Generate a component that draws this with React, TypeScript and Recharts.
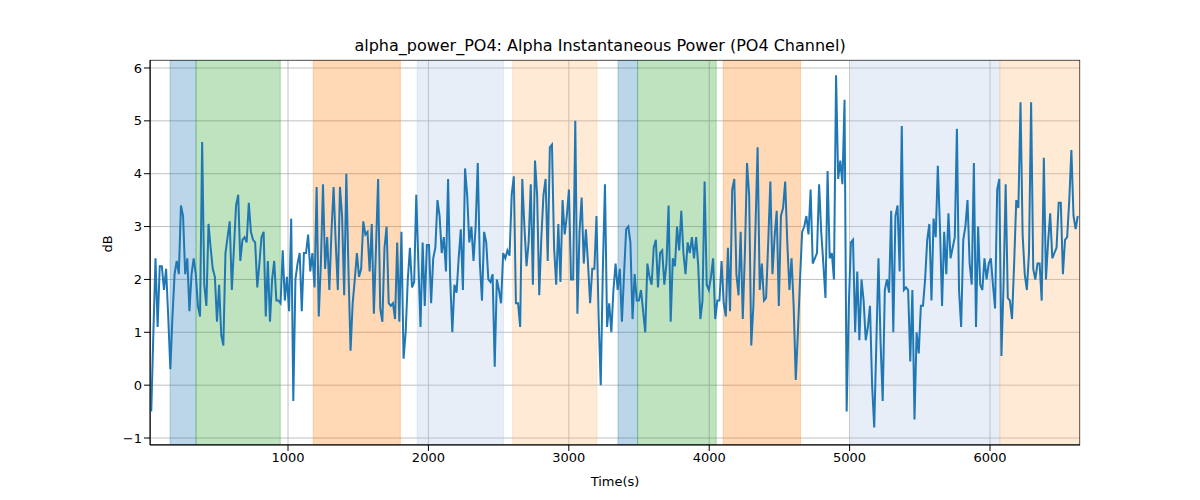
import { LineChart, Line, XAxis, YAxis, CartesianGrid, ReferenceArea } from 'recharts'

// alpha power readings (dB) left to right
const powerA = [
  -0.5, 1.0, 2.4, 1.1, 2.25, 2.25, 1.8, 2.2, 1.3, 0.3, 1.3, 2.1, 2.35, 2.1, 3.4, 3.2, 2.1, 2.4, 1.4, 2.1,
  2.4, 2.1, 1.5, 1.3, 4.6, 1.9, 1.5, 3.05, 2.6, 2.2, 2.05, 1.2, 1.9, 0.95, 0.75, 2.5, 2.8, 3.1, 1.8, 2.6,
  3.4, 3.6, 2.35, 2.75, 2.8, 2.7, 3.45, 2.9, 2.75, 2.7, 1.85, 2.3, 2.8, 2.9, 1.3, 2.35, 1.2, 2.0, 2.35, 1.6,
  1.6, 1.55, 2.55, 1.6, 2.05, 1.4, 3.15, -0.3, 2.0, 2.3,
]
const powerB = [
  2.5, 1.4, 2.5, 2.5, 2.85, 2.15, 2.5, 1.85, 3.75, 1.3, 2.3, 3.8, 2.2, 2.8, 1.8, 2.9, 3.75, 2.7, 1.8, 3.75,
  3.2, 1.7, 4.0, 2.2, 0.65, 1.55, 2.0, 2.5, 2.05, 2.2, 3.1, 2.85, 2.9, 2.15, 3.05, 1.35, 2.6, 3.9, 1.45, 1.2,
  2.6, 3.0, 1.55, 1.5, 1.55, 1.25, 2.7, 1.2, 2.9, 0.5, 1.0, 2.0, 2.6, 1.85, 1.95, 3.6, 2.3, 1.1, 2.7, 1.5,
  2.65, 2.65, 1.55, 2.4, 2.6, 3.5, 3.2, 2.5, 2.8, 2.15, 3.9, 2.0,
]
const powerC = [
  1.0, 1.9, 1.75, 2.4, 2.95, 1.8, 4.1, 3.6, 2.7, 3.0, 2.35, 3.0, 4.2, 2.3, 1.6, 2.9, 2.7, 2.0, 1.95, 2.1,
  0.35, 2.0, 1.8, 1.55, 2.5, 2.4, 2.55, 2.45, 3.6, 3.95, 1.55, 1.55, 1.1, 3.9, 3.0, 2.25, 2.7, 3.8, 1.9, 4.25,
  3.6, 1.7, 2.8, 3.6, 3.9, 2.35, 4.5, 4.55, 2.6, 1.9, 3.05, 1.95, 3.5, 2.85, 3.2, 3.7, 2.0, 2.0, 5.0, 1.35,
  2.9, 3.55, 2.3, 2.95, 2.3, 1.55, 2.2, 2.2, 3.2, 1.3, 0.0, 2.2, 3.8,
]
const powerD = [
  1.1, 1.55, 1.0, 1.8, 2.3, 1.8, 2.2, 1.2, 2.1, 2.95, 3.0, 2.7, 1.25, 2.1, 1.6, 1.6, 1.8, 1.4, 1.0, 2.3,
  2.05, 1.9, 2.6, 2.75, 1.85, 2.5, 2.55, 1.9, 2.3, 3.4, 1.2, 2.4, 2.25, 3.0, 2.55, 3.3, 2.5, 2.1, 2.7, 2.5,
  2.8, 2.4, 2.8, 2.25, 1.25, 1.6, 3.85, 1.9, 1.8, 2.05, 2.4, 1.25, 1.6, 1.6, 2.35, 1.55, 1.3, 2.6, 1.4, 3.7,
  3.9, 2.1, 1.7, 2.9, 1.25, 2.5, 4.2, 3.6, 0.75, 1.5, 3.0, 4.5, 1.8, 2.3,
]
const powerE = [
  1.6, 1.65, 2.7, 3.85, 2.1, 2.8, 3.3, 1.5, 3.2, 3.35, 3.85, 2.7, 1.8, 2.4, 1.5, 0.1, 1.0, 2.0, 2.9, 3.0,
  3.2, 2.85, 3.7, 2.3, 2.4, 2.5, 3.8, 2.9, 2.3, 1.65, 4.05, 2.4, 2.5, 2.0, 5.86, 3.9, 4.25, 3.8, 5.4, -0.5,
  1.5, 2.7, 2.75, 1.0, 2.15, 0.85, 2.0, 1.6, 0.85, 1.1, 1.5, 0.0, -0.8, 0.8, 2.4, 0.8, -0.3, 1.8, 2.0, 1.75,
  3.3, 1.0, 3.2, 3.4, 2.15, 4.9, 1.8, 1.85, 1.8, 0.45, 1.8, -0.65, 1.0, 0.6, 1.5,
]
const powerF = [
  1.5, 2.0, 2.75, 3.05, 1.6, 3.15, 2.8, 4.15, 3.0, 1.5, 2.9, 2.1, 3.25, 2.4, 2.6, 2.8, 4.85, 1.8, 1.1, 2.75,
  3.0, 3.5, 2.3, 1.9, 4.2, 1.1, 3.0, 1.9, 1.8, 2.4, 2.0, 2.3, 2.4, 1.9, 1.45, 3.7, 3.9, 0.55, 1.9, 3.8,
  1.65, 1.6, 1.25, 2.3, 3.5, 3.35, 5.35, 2.85, 2.1, 1.8, 2.5, 5.35, 2.2, 2.0, 2.3, 2.3, 1.6, 4.3, 2.0, 2.7,
  3.25, 2.4, 2.5, 2.6, 3.45, 3.45, 2.1, 2.75, 2.8, 3.5, 4.45, 3.2, 2.95, 3.2,
]
const power = [...powerA, ...powerB, ...powerC, ...powerD, ...powerE, ...powerF]

const startTime = 26
const endTime = 6625

// shaded epochs
const bandStarts = [160, 345, 1180, 1920, 2600, 3350, 3490, 4100, 5010, 6070]
const bandEnds = [345, 945, 1800, 2535, 3200, 3490, 4050, 4650, 6070, 6641]
const bandColors = ['#1f77b4', '#2ca02c', '#ff7f0e', '#aec7e8', '#ffbb78', '#1f77b4', '#2ca02c', '#ff7f0e', '#aec7e8', '#ffbb78']

const xTicks = [1000, 2000, 3000, 4000, 5000, 6000]
const yTicks = [-1, 0, 1, 2, 3, 4, 5, 6]

const step = (endTime - startTime) / (power.length - 1)
const data = power.map((v, i) => ({ t: startTime + i * step, v }))

const font = 'DejaVu Sans, sans-serif'

export default function App() {
  return (
    <div style={{ position: 'absolute', left: 0, top: 0, width: 1200, height: 500, background: '#fff', fontFamily: font }}>
      <div style={{ position: 'absolute', top: 36, width: 1200, textAlign: 'center', fontSize: 16, color: '#000' }}>
        alpha_power_PO4: Alpha Instantaneous Power (PO4 Channel)
      </div>
      <LineChart width={1200} height={500} data={data} margin={{ top: 60, right: 120, bottom: 25, left: 90 }}>
        {bandStarts.map((s, i) => (
          <ReferenceArea key={i} x1={s} x2={bandEnds[i]} fill={bandColors[i]} fillOpacity={0.3} stroke={bandColors[i]} strokeOpacity={0.3} ifOverflow="hidden" />
        ))}
        <CartesianGrid stroke="#b0b0b0" strokeWidth={0.8} />
        <XAxis
          dataKey="t"
          type="number"
          domain={[17, 6641]}
          ticks={xTicks}
          height={30}
          tick={{ fill: '#000', fontSize: 13, fontFamily: font }}
          tickLine={{ stroke: '#000' }}
          axisLine={{ stroke: '#000' }}
          label={{ value: 'Time(s)', position: 'insideBottom', offset: -11, fill: '#000', fontSize: 13, fontFamily: font }}
        />
        <YAxis
          type="number"
          domain={[-1.132, 6.151]}
          ticks={yTicks}
          width={60}
          tickFormatter={(v: number) => String(v).replace('-', '\u2212')}
          tick={{ fill: '#000', fontSize: 13, fontFamily: font }}
          tickLine={{ stroke: '#000' }}
          axisLine={{ stroke: '#000' }}
          label={{ value: 'dB', angle: -90, position: 'insideLeft', offset: 17, fill: '#000', fontSize: 13, fontFamily: font }}
        />
        <Line dataKey="v" stroke="#1f77b4" strokeWidth={2} dot={false} isAnimationActive={false} />
        <ReferenceArea x1={17} x2={6641} y1={-1.132} y2={6.151} fill="none" stroke="#000" strokeWidth={1} ifOverflow="hidden" />
      </LineChart>
    </div>
  )
}
